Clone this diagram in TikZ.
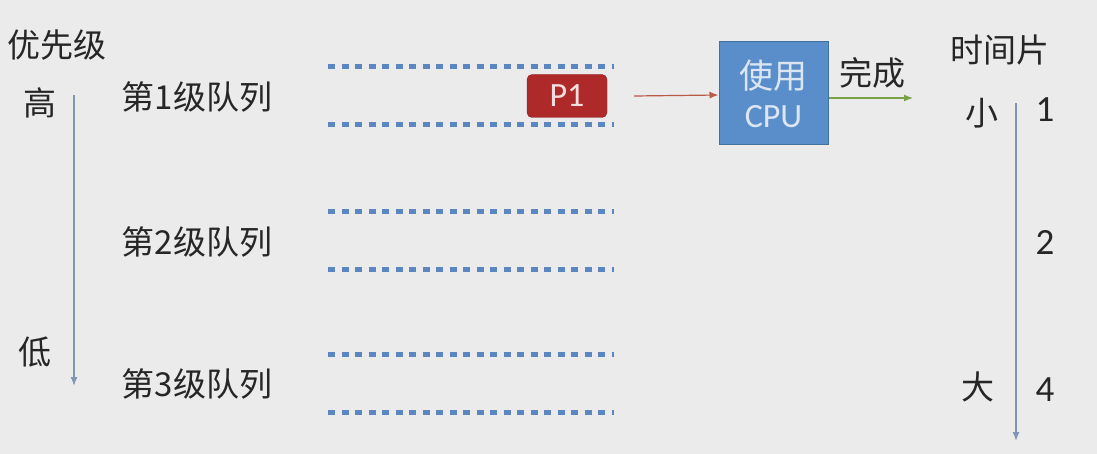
\documentclass[tikz,border=0pt]{standalone}
\usepackage{fontspec}
\setmainfont{Carlito}
\newfontfamily\cjk{Noto Sans CJK SC}
\usetikzlibrary{arrows.meta,positioning}
\definecolor{bggray}{HTML}{EBEBEB}
\definecolor{dotblue}{HTML}{5B87C0}
\definecolor{pred}{HTML}{AE2A2A}
\definecolor{ptext}{HTML}{F5DEDE}
\definecolor{arrred}{HTML}{B85A45}
\definecolor{cpufill}{HTML}{5A8ECB}
\definecolor{cpuedge}{HTML}{41719C}
\definecolor{cputext}{HTML}{DCE6F2}
\definecolor{arrgreen}{HTML}{78A346}
\definecolor{axisblue}{HTML}{7F96B6}
\begin{document}
\begin{tikzpicture}[x=1pt,y=-1pt,>={Latex[length=9pt,width=7pt]}]
  \tikzstyle{lbl}=[inner sep=0pt,font=\fontsize{33}{36}\selectfont\cjk,text=black!85]
  \tikzstyle{num}=[inner sep=0pt,font=\fontsize{37}{40}\selectfont,text=black!85]
  \tikzstyle{queue}=[dotblue,line width=5pt,dash pattern=on 7pt off 6.5pt]
  \tikzstyle{axis}=[axisblue,line width=1.4pt,->]
  \fill[bggray] (0,0) rectangle (1097,454);
  \useasboundingbox (0,0) rectangle (1097,454);
  % priority axis
  \node[lbl] (prio) at (57,45) {优先级};
  \node[lbl] (high) at (40,103) {高};
  \node[lbl] (low) at (35,352) {低};
  \coordinate (ptop) at (74,95);
  \coordinate (pbot) at (74,386);
  \draw[axis] (ptop) -- (pbot);
  % queues
  \foreach \i/\y in {1/97,2/242,3/384}{
    \node[lbl] (q\i) at (197,\y) {第\i 级队列};
    \coordinate (q\i tl) at (328,\y-30);
    \coordinate (q\i tr) at (614,\y-30);
    \coordinate (q\i bl) at (328,\y+28);
    \coordinate (q\i br) at (614,\y+28);
    \draw[queue] (q\i tl) -- (q\i tr);
    \draw[queue] (q\i bl) -- (q\i br);
  }
  % process and CPU
  \node[draw=pred!80!black,fill=pred,rounded corners=5pt,minimum width=80pt,minimum height=43pt,
        text=ptext,font=\fontsize{34}{36}\selectfont] (p1) at (567,96) {P1};
  \node[draw=cpuedge,line width=1pt,fill=cpufill,minimum width=109pt,minimum height=103pt,align=center,
        text=cputext,font=\fontsize{34}{39}\selectfont] (cpu) at (773.5,93.5) {{\cjk 使用}\\CPU};
  \draw[arrred,line width=1.2pt,->] (p1.east)+(27pt,0) -- (cpu.west |- 0,95);
  \coordinate (done) at (913,98);
  \draw[arrgreen,line width=1.2pt,->] (cpu.east |- done) -- (done);
  \node[lbl] (donelbl) at (872,73) {完成};
  % time slice axis
  \node[lbl] (slice) at (1000,50) {时间片};
  \node[lbl] (small) at (982,113) {小};
  \node[lbl] (big) at (978,387) {大};
  \node[num] (t1) at (1045,110) {1};
  \node[num] (t2) at (1045,242) {2};
  \node[num] (t4) at (1045,390) {4};
  \coordinate (stop) at (1016,103);
  \coordinate (sbot) at (1016,441);
  \draw[axis] (stop) -- (sbot);
\end{tikzpicture}
\end{document}
